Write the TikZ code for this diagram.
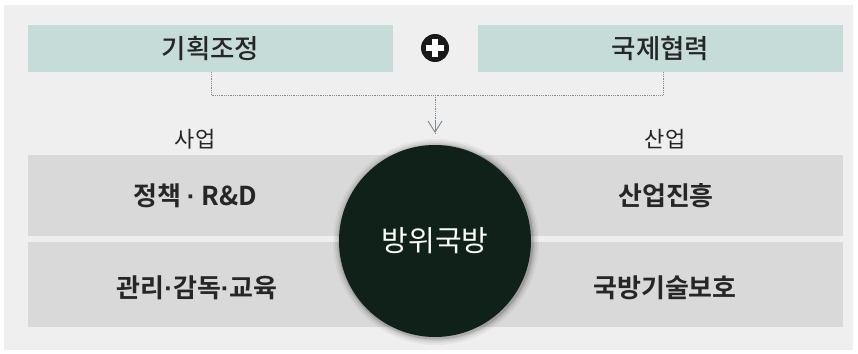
\documentclass[tikz,border=0pt]{standalone}
\usepackage{fontspec}
\newfontfamily\kr{Noto Sans CJK KR}
\newfontfamily\krm{Noto Sans CJK KR Medium}
\newfontfamily\krb{Noto Sans CJK KR Bold}
\newfontfamily\latd{Liberation Sans Bold}
\usetikzlibrary{arrows.meta}
\definecolor{bg}{HTML}{EFEFEF}
\definecolor{teal}{HTML}{C6DCD9}
\definecolor{band}{HTML}{D9D9D9}
\definecolor{core}{HTML}{0F2119}
\definecolor{dots}{HTML}{7F8C96}
\newcommand{\mdot}{{\latd\textperiodcentered}}
\tikzset{
  topbox/.style={fill=teal, minimum width=365pt, minimum height=47pt, inner sep=0pt, font=\krm\fontsize{26.5}{26.5}\selectfont, text=black!85},
  bandtxt/.style={font=\krb\fontsize{26}{26}\selectfont, text=black!85, inner sep=0pt},
  small/.style={font=\kr\fontsize{22}{22}\selectfont, text=black!85, inner sep=0pt},
  conn/.style={dots, densely dotted, line width=0.8pt},
}
\begin{document}
\begin{tikzpicture}[x=1pt,y=-1pt]
\useasboundingbox (0,0) rectangle (858,353);
\fill[white] (0,0) rectangle (858,353);
\fill[bg] (4,5) rectangle (853,350);
% top boxes
\node[topbox] (plan) at (210.5,48.5) {기획조정};
\node[topbox] (intl) at (660.5,48.5) {국제협력};
% plus
\node[circle, fill=black!90, minimum size=28pt, inner sep=0pt] (plus) at (435,48) {};
\fill[white] (426,45) rectangle (444,51);
\fill[white] (432,39) rectangle (438,57);
% bands
\fill[band] (28,155) rectangle (843,236);
\fill[band] (28,242) rectangle (843,327);
% connector
\coordinate (jl) at (211,95);
\coordinate (jr) at (663,95);
\coordinate (jm) at (435,95);
\coordinate (tip) at (435,133);
\draw[conn] (plan.south -| jl) -- (jl) -- (jr) -- (intl.south -| jr);
\draw[conn] (jm) -- (tip);
\draw[dots, line width=1pt, -{Straight Barb[length=11pt,width=14pt]}] (435,121) -- (tip);
% labels
\node[small] (biz) at (195,139) {사업};
\node[small] (ind) at (665,139) {산업};
\node[bandtxt] (pol) at (195,196) {정책 \mdot{} R\&D};
\node[bandtxt] (mgmt) at (197,288) {관리\mdot 감독\mdot 교육};
\node[bandtxt] (prom) at (666,196) {산업진흥};
\node[bandtxt] (prot) at (665,288) {국방기술보호};
% core circle with soft shadow
\foreach \r/\o in {103/0.04,101/0.06,99/0.08,97.5/0.12} {
  \fill[black, opacity=\o] (436,242) circle (\r);
}
\node[circle, fill=core, minimum size=192pt, inner sep=0pt, text=white, font=\kr\fontsize{29}{29}\selectfont] (core) at (435,241) {방위국방};
\end{tikzpicture}
\end{document}
